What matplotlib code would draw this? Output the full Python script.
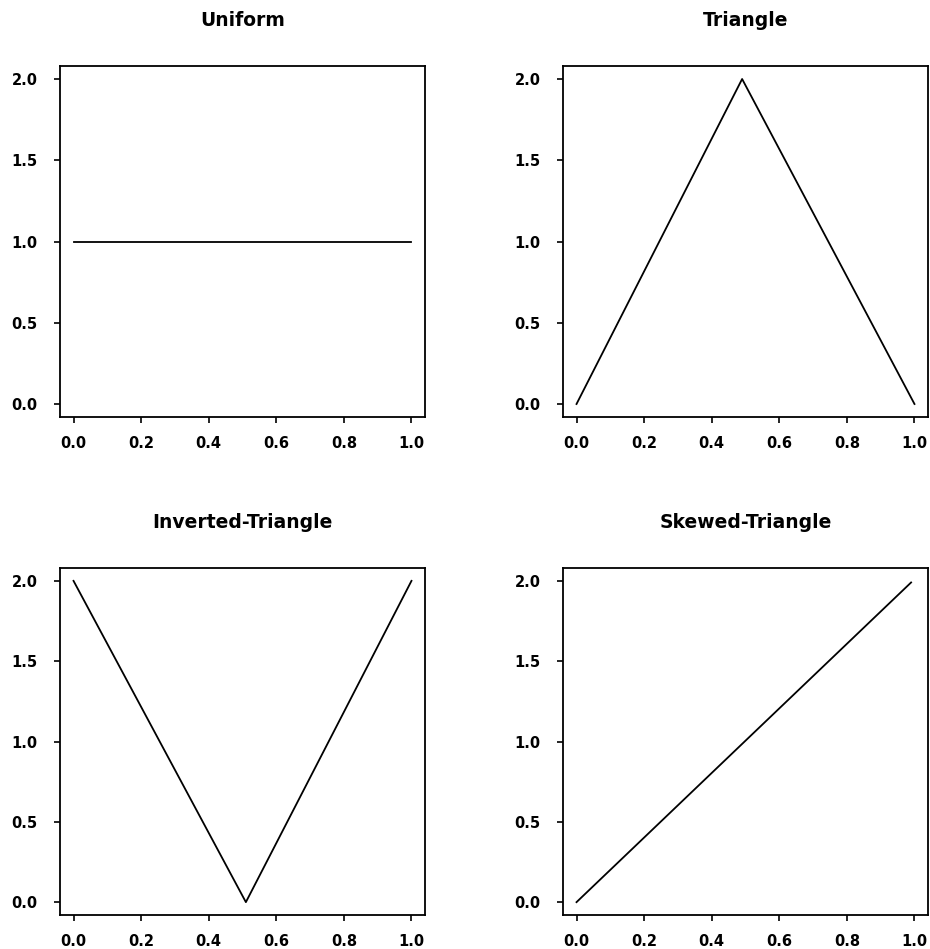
import matplotlib
matplotlib.use('Agg')
import matplotlib.pyplot as plt

plt.rcParams['font.family'] = ['DejaVu Sans']

titles = ['Uniform', 'Triangle', 'Inverted-Triangle', 'Skewed-Triangle']
uniform_x = [0.0, 1.0]
uniform_y = [1.0, 1.0]
triangle_x = [0.0, 0.49, 1.0]
triangle_y = [0.0, 2.0, 0.0]
inverted_x = [0.0, 0.51, 1.0]
inverted_y = [2.0, 0.0, 2.0]
skewed_x = [0.0, 0.99]
skewed_y = [0.0, 1.99]
xticks = [0.0, 0.2, 0.4, 0.6, 0.8, 1.0]
yticks = [0.0, 0.5, 1.0, 1.5, 2.0]

series = [(uniform_x, uniform_y), (triangle_x, triangle_y),
          (inverted_x, inverted_y), (skewed_x, skewed_y)]

fig = plt.figure(figsize=(9.3, 9.49), dpi=100)

W, H = 930.0, 949.0
# axes boxes in pixels (left, top, right, bottom)
boxes = [(60, 66, 425, 417), (563, 66, 928, 417),
         (60, 568, 425, 915), (563, 568, 928, 915)]

for (x0, y0, x1, y1), title, (xs, ys) in zip(boxes, titles, series):
    ax = fig.add_axes([x0 / W, 1 - y1 / H, (x1 - x0) / W, (y1 - y0) / H])
    ax.plot(xs, ys, color='black', lw=1.3)
    ax.set_xlim(-0.04, 1.04)
    ax.set_ylim(-0.08, 2.08)
    ax.set_xticks(xticks)
    ax.set_yticks(yticks)
    ax.set_xticklabels(['%.1f' % v for v in xticks], fontsize=10.5, fontweight='bold')
    ax.set_yticklabels(['%.1f' % v for v in yticks], fontsize=10.5, fontweight='bold')
    ax.tick_params(direction='out', length=4.5, width=1.2)
    ax.tick_params(axis='x', pad=9.5)
    ax.tick_params(axis='y', pad=11.5)
    for s in ax.spines.values():
        s.set_linewidth(1.3)
    ax.set_title(title, fontsize=13.5, fontweight='bold', pad=29)

fig.savefig('out.png', dpi=100)
